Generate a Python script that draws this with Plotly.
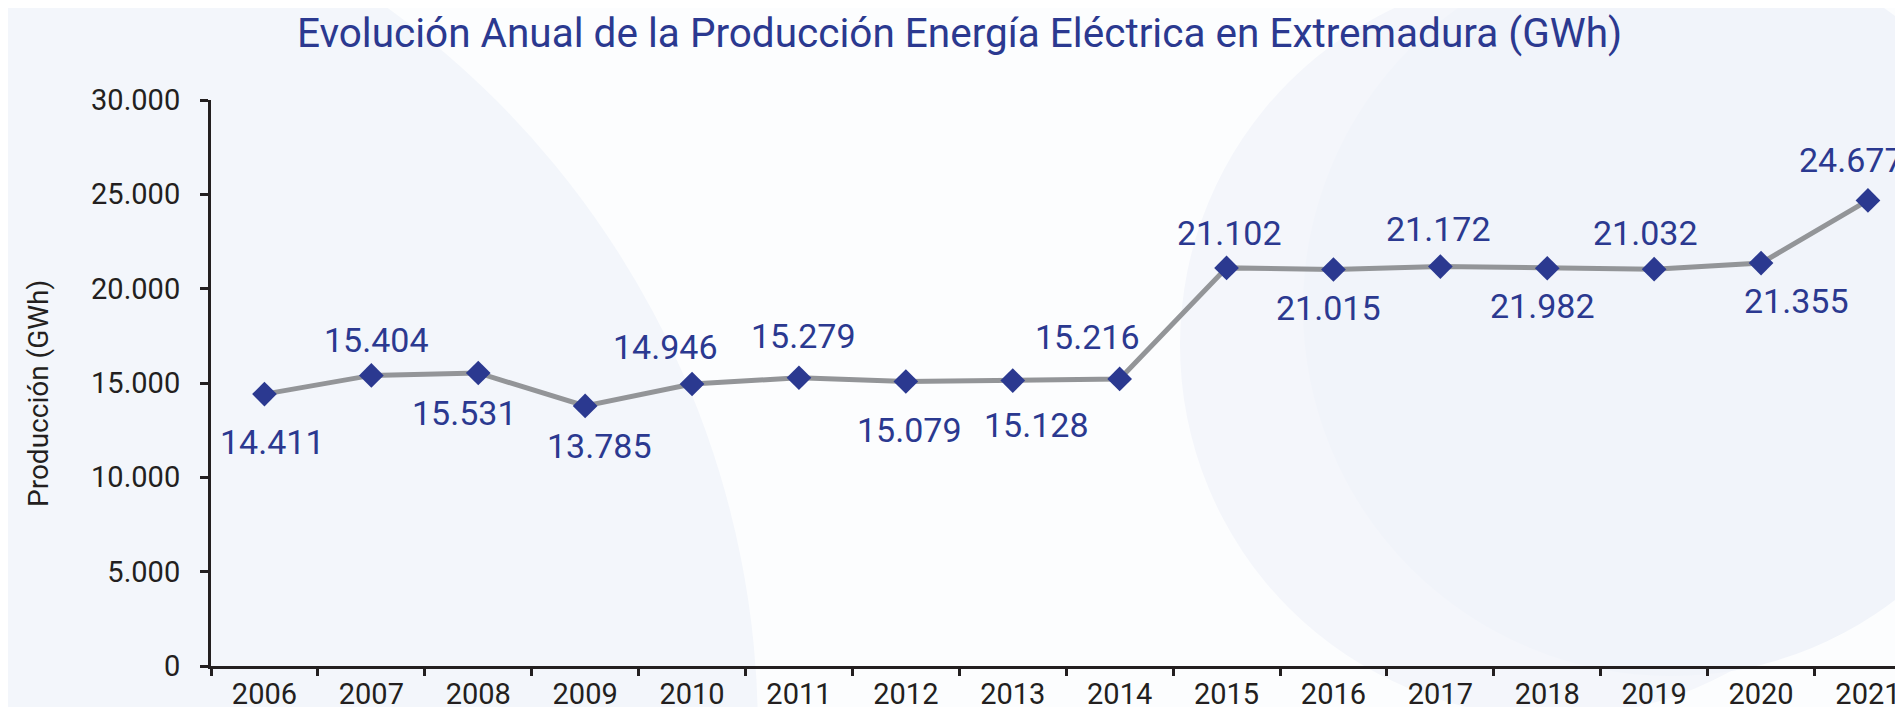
import plotly.graph_objects as go

# ---------------- data ----------------
anios = ["2006", "2007", "2008", "2009", "2010", "2011", "2012", "2013",
         "2014", "2015", "2016", "2017", "2018", "2019", "2020", "2021"]
produccion_gwh = [14411, 15404, 15531, 13785, 14946, 15279, 15079, 15128,
                  15216, 21102, 21015, 21172, 21082, 21032, 21355, 24677]
etiquetas = ["14.411", "15.404", "15.531", "13.785", "14.946", "15.279", "15.079", "15.128",
             "15.216", "21.102", "21.015", "21.172", "21.982", "21.032", "21.355", "24.677"]
y_ticks = [0, 5000, 10000, 15000, 20000, 25000, 30000]
y_tick_labels = ["0", "5.000", "10.000", "15.000", "20.000", "25.000", "30.000"]

titulo = "Evolución Anual de la Producción Energía Eléctrica en Extremadura (GWh)"
titulo_y = "Producción (GWh)"

# ---------------- layout geometry ----------------
W, H = 1903, 707
ML, MR, MT, MB = 203, 0, 92, 49
PW, PH = W - ML - MR, H - MT - MB

def px(x):
    return (x - ML) / PW

def py(y):
    return (H - MB - y) / PH

# label placement (pixel shifts relative to each marker), as in the original
label_dx = [8, 5, -14, 14, -27, 5, 4, 24, -32, 3, -5, -2, -5, -9, 35, -16]
label_dy = [-48, 35, -40, -40, 37, 42, -48, -44, 42, 35, -38, 38, -38, 36, -38, 40]

AZUL = "#2b3990"
GRIS = "#939598"
NEGRO = "#231f20"
FONT = "Roboto"

fig = go.Figure()
fig.add_trace(go.Scatter(
    x=anios, y=produccion_gwh, mode="lines+markers",
    line=dict(color=GRIS, width=5),
    marker=dict(symbol="diamond", size=19, color=AZUL, line=dict(width=0)),
    hoverinfo="skip", showlegend=False, cliponaxis=False,
))

# data labels (category index positions on the x axis)
for i, (v, t) in enumerate(zip(produccion_gwh, etiquetas)):
    fig.add_annotation(
        x=i, y=v, xref="x", yref="y", text=t, showarrow=False,
        xanchor="center", yanchor="middle",
        xshift=label_dx[i], yshift=label_dy[i],
        font=dict(family=FONT, size=34, color=AZUL),
    )

# y-axis title
fig.add_annotation(
    xref="paper", yref="paper", x=px(30), y=py(386), text=titulo_y,
    showarrow=False, textangle=-90, xanchor="center", yanchor="middle",
    font=dict(family=FONT, size=28, color=NEGRO),
)

# decorative background circles
def circle(cx, cy, r, color):
    return dict(type="circle", xref="paper", yref="paper", layer="below",
                x0=px(cx - r), x1=px(cx + r), y0=py(cy + r), y1=py(cy - r),
                fillcolor=color, line=dict(width=0))

shapes = [
    circle(-143, 724, 893, "#f3f6fb"),
    circle(1544, 337, 372, "#f4f6fb"),
    circle(1663, 300, 368, "#f1f4fa"),
]

fig.update_layout(
    width=W, height=H,
    margin=dict(l=ML, r=MR, t=MT, b=MB, autoexpand=False),
    paper_bgcolor="#fcfdfe",
    plot_bgcolor="rgba(0,0,0,0)",
    separators=",.",
    shapes=shapes,
    title=dict(text=titulo, x=0.5, xref="container", xanchor="center",
               y=1 - 25 / H, yref="container", yanchor="middle",
               font=dict(family=FONT, size=40.5, color=AZUL)),
    font=dict(family=FONT, color=NEGRO),
    xaxis=dict(
        type="category", range=[-0.5, -0.5 + PW / 106.9],
        showline=True, linecolor=NEGRO, linewidth=3,
        ticks="outside", tickson="boundaries", ticklen=7, tickwidth=3, tickcolor=NEGRO,
        showgrid=False, zeroline=False,
        tickfont=dict(family=FONT, size=29, color=NEGRO),
        fixedrange=True,
    ),
    yaxis=dict(
        range=[0, 30000], tickvals=y_ticks, ticktext=y_tick_labels,
        showline=True, linecolor=NEGRO, linewidth=3,
        ticks="outside", ticklen=8, tickwidth=3, tickcolor=NEGRO,
        showgrid=False, zeroline=False,
        tickfont=dict(family=FONT, size=29, color=NEGRO),
        ticklabelstandoff=14,
        fixedrange=True,
    ),
)

fig.write_html("out.html")
